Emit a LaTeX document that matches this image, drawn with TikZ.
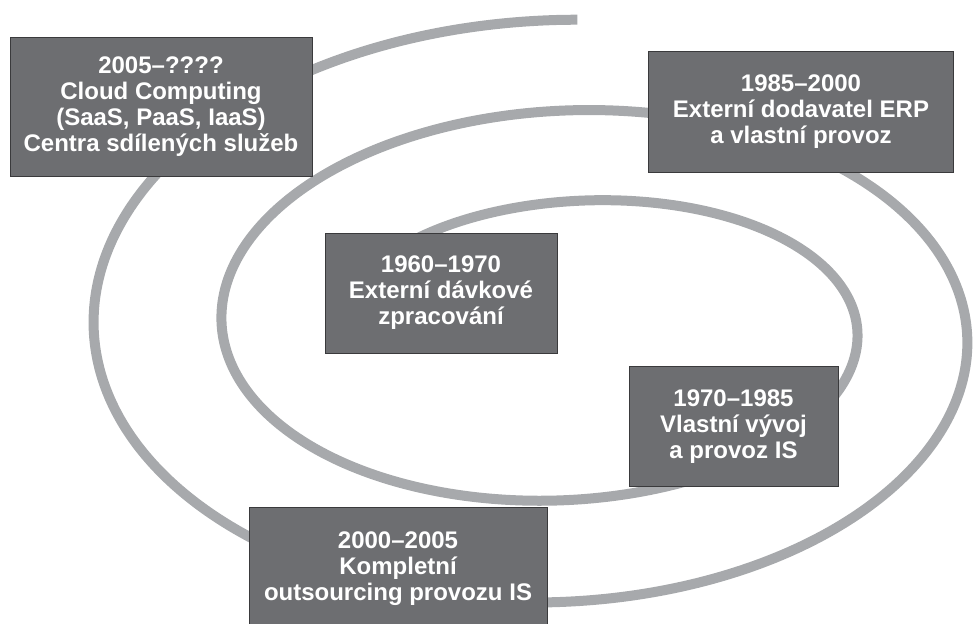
\documentclass[tikz,border=0pt]{standalone}
\usepackage{fontspec}
\setmainfont{Liberation Sans}
\definecolor{boxgray}{HTML}{6D6E71}
\definecolor{ringgray}{HTML}{A7A9AC}
\definecolor{edgegray}{HTML}{3A3A3C}
\tikzset{
  period/.style={draw=edgegray, line width=1pt, fill=boxgray, text=white,
    font=\bfseries\fontsize{24}{26}\selectfont, align=center, inner sep=0pt},
  ring/.style={draw=ringgray, line width=10pt}
}

\begin{document}
\begin{tikzpicture}[x=1pt, y=-1pt]
            \useasboundingbox (0,0) rectangle (973,623);

            % Spiral (centre and radii shrink with every turn)
            \draw[ring] plot[domain=-0.007:2.2, samples=400, smooth, variable=\u]
              ({555.75+9*\u + (493.75-119*\u)*cos(90+360*\u)},
               {336.5-5.75*\u - (316.5-96.25*\u)*sin(90+360*\u)});

            % Nodes
            \node[period, minimum width=302pt, minimum height=138pt] (cloud) at (161,107)
              {2005--????\\Cloud Computing\\(SaaS, PaaS, IaaS)\\Centra sdílených služeb};
            \node[period, minimum width=305pt, minimum height=120pt] (erp) at (801,112)
              {1985--2000\\Externí dodavatel ERP\\a vlastní provoz};
            \node[period, minimum width=232pt, minimum height=120pt] (batch) at (441,293)
              {1960--1970\\Externí dávkové\\zpracování};
            \node[period, minimum width=209pt, minimum height=120pt] (own) at (733.5,426.5)
              {1970--1985\\Vlastní vývoj\\a provoz IS};
            \node[period, minimum width=298pt, minimum height=124pt] (outs) at (398,569)
              {2000--2005\\Kompletní\\outsourcing provozu IS};
        \end{tikzpicture}
\end{document}
